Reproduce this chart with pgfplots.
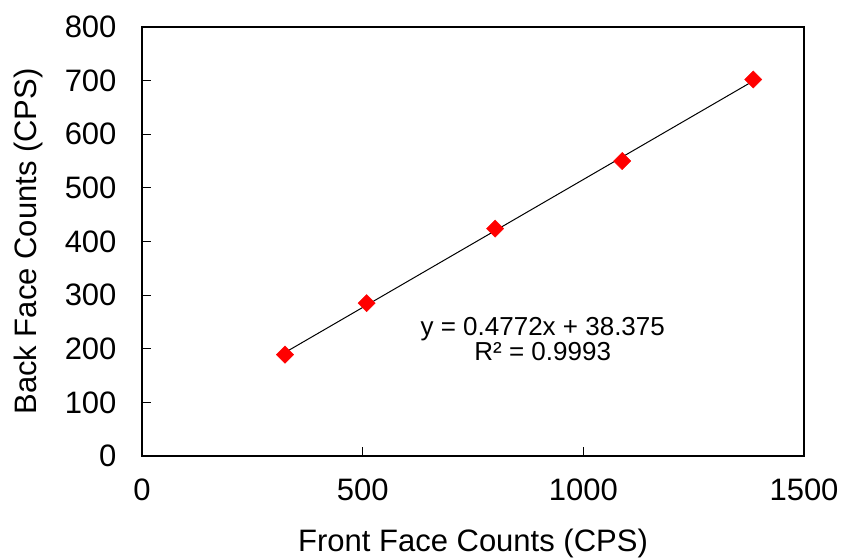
\documentclass[border=0pt]{standalone}
\usepackage{pgfplots}
\pgfplotsset{compat=1.18}
\usepackage{fontspec}
\setmainfont{Liberation Sans}
\newcommand{\chartfont}{\fontsize{31bp}{36bp}\selectfont}
\newcommand{\eqfont}{\fontsize{26bp}{22bp}\selectfont}
\begin{document}
\begin{tikzpicture}[x=1bp,y=1bp]
\path[use as bounding box] (0,0) rectangle (844,560);
\begin{axis}[
  at={(142bp,104bp)}, anchor=south west,
  scale only axis, width=662bp, height=429bp,
  xmin=0, xmax=1500, ymin=0, ymax=800,
  xtick={0,500,1000,1500}, ytick={0,100,...,800},
  tick align=inside, xtick pos=bottom, ytick pos=left,
  major tick length=9bp,
  tick style={black, line width=0.8bp},
  axis line style={black, line width=1.8bp},
  /pgf/number format/assume math mode=true,
  /pgf/number format/1000 sep={},
  tick label style={font=\chartfont},
  label style={font=\chartfont},
  xticklabel style={yshift=-19bp},
  yticklabel style={xshift=-22bp},
  xlabel={Front Face Counts (CPS)},
  ylabel={Back Face Counts (CPS)},
  xlabel style={yshift=-22bp},
  ylabel style={yshift=15bp},
  clip=false,
]
\addplot[black, line width=1bp] coordinates {(324,193) (1385,699.3)};
\addplot[only marks, mark=square*, mark size=6.1bp, color=red,
  mark options={rotate=45, fill=red, draw=red}] coordinates {
  (324,189) (509,285) (800,424) (1088,550) (1385,702)
};
\node[align=center, inner sep=0pt, font=\eqfont] at (axis cs:908,218)
  {y = 0.4772x + 38.375\\R² = 0.9993};
\end{axis}
\end{tikzpicture}
\end{document}
